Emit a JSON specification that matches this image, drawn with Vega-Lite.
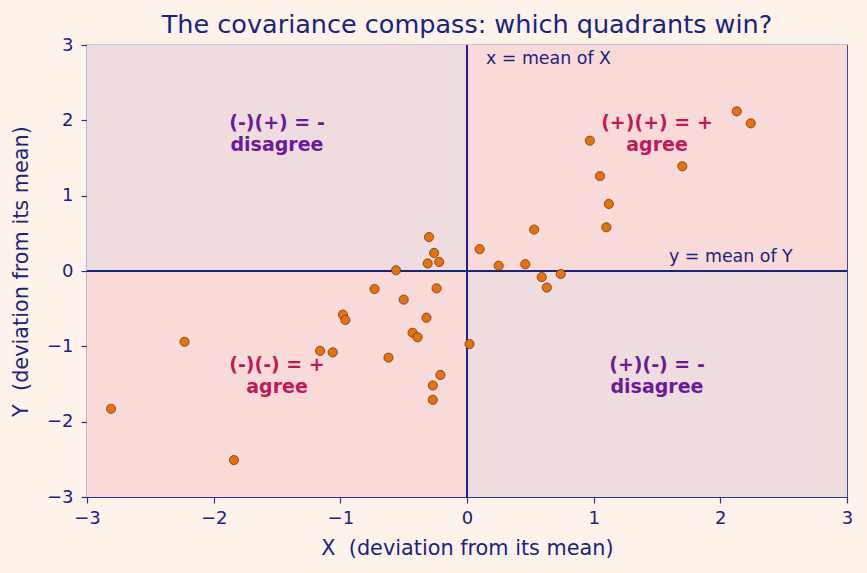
{
  "$schema": "https://vega.github.io/schema/vega-lite/v6.json",
  "autosize": "none",
  "width": 760,
  "height": 452,
  "padding": {"left": 87, "top": 45, "right": 20, "bottom": 76},
  "background": "#fef3ea",
  "config": {
    "font": "DejaVu Sans",
    "view": {"stroke": "#283593", "strokeWidth": 1.2},
    "axis": {
      "labelColor": "#1a237e", "titleColor": "#1a237e", "labelFontSize": 18, "titleFontSize": 20.8,
      "titleFontWeight": "normal", "tickColor": "#283593", "domain": false, "grid": false, "labelFlush": false,
      "tickSize": 6, "tickWidth": 1.2, "labelPadding": 6, "titleFont": "DejaVu Sans", "labelFont": "DejaVu Sans"
    }
  },
  "title": {"text": "The covariance compass: which quadrants win?", "fontSize": 25.5, "fontWeight": "normal", "color": "#1a237e", "font": "DejaVu Sans", "offset": -2},
  "resolve": {"scale": {"color": "independent"}},
  "layer": [
    {
      "data": {"values": [
        {"x1": 0, "x2": 3, "y1": 0, "y2": 3, "kind": "agree"},
        {"x1": -3, "x2": 0, "y1": -3, "y2": 0, "kind": "agree"},
        {"x1": -3, "x2": 0, "y1": 0, "y2": 3, "kind": "disagree"},
        {"x1": 0, "x2": 3, "y1": -3, "y2": 0, "kind": "disagree"}
      ]},
      "mark": {"type": "rect"},
      "encoding": {
        "x": {"field": "x1", "type": "quantitative", "scale": {"domain": [-3, 3], "nice": false}, "axis": {"values": [-3, -2, -1, 0, 1, 2, 3], "format": "d", "title": "X\u00a0\u00a0(deviation from its mean)", "titlePadding": 11, "labelPadding": 6}},
        "x2": {"field": "x2"},
        "y": {"field": "y1", "type": "quantitative", "scale": {"domain": [-3, 3], "nice": false}, "axis": {"values": [-3, -2, -1, 0, 1, 2, 3], "format": "d", "title": "Y\u00a0\u00a0(deviation from its mean)", "titlePadding": 15, "labelPadding": 8}},
        "y2": {"field": "y2"},
        "color": {"field": "kind", "type": "nominal", "scale": {"domain": ["agree", "disagree"], "range": ["#f8dbd8", "#eedcdf"]}, "legend": null}
      }
    },
    {
      "data": {"values": [{"v": 0}]},
      "mark": {"type": "rule", "color": "#1a237e", "strokeWidth": 2},
      "encoding": {"x": {"field": "v", "type": "quantitative"}}
    },
    {
      "data": {"values": [{"v": 0}]},
      "mark": {"type": "rule", "color": "#1a237e", "strokeWidth": 2},
      "encoding": {"y": {"field": "v", "type": "quantitative"}}
    },
    {
      "data": {"values": [
        {"x": -1.5, "y": 1.965, "lines": ["(-)(+) = -", "disagree"], "kind": "disagree"},
        {"x": 1.5, "y": 1.965, "lines": ["(+)(+) = +", "agree"], "kind": "agree"},
        {"x": -1.5, "y": -1.248, "lines": ["(-)(-) = +", "agree"], "kind": "agree"},
        {"x": 1.5, "y": -1.248, "lines": ["(+)(-) = -", "disagree"], "kind": "disagree"}
      ]},
      "mark": {"type": "text", "fontSize": 19, "fontWeight": "bold", "align": "center", "baseline": "middle", "lineHeight": 22},
      "encoding": {
        "x": {"field": "x", "type": "quantitative"},
        "y": {"field": "y", "type": "quantitative"},
        "text": {"field": "lines"},
        "color": {"field": "kind", "type": "nominal", "scale": {"domain": ["agree", "disagree"], "range": ["#c2185b", "#6a1b9a"]}, "legend": null}
      }
    },
    {
      "data": {"values": [
        {"x": 0.15, "y": 2.81, "label": "x = mean of X"},
        {"x": 1.595, "y": 0.186, "label": "y = mean of Y"}
      ]},
      "mark": {"type": "text", "fontSize": 17.4, "align": "left", "baseline": "middle", "color": "#1a237e"},
      "encoding": {
        "x": {"field": "x", "type": "quantitative"},
        "y": {"field": "y", "type": "quantitative"},
        "text": {"field": "label"}
      }
    },
    {
      "data": {"values": [
        {"x": -2.81, "y": -1.83}, {"x": -2.23, "y": -0.94}, {"x": -1.84, "y": -2.51},
        {"x": -1.16, "y": -1.06}, {"x": -1.06, "y": -1.08}, {"x": -0.98, "y": -0.58},
        {"x": -0.96, "y": -0.65}, {"x": -0.73, "y": -0.24}, {"x": -0.62, "y": -1.15},
        {"x": -0.56, "y": 0.01}, {"x": -0.5, "y": -0.38}, {"x": -0.43, "y": -0.82},
        {"x": -0.39, "y": -0.88}, {"x": -0.32, "y": -0.62}, {"x": -0.3, "y": 0.45},
        {"x": -0.26, "y": 0.24}, {"x": -0.31, "y": 0.1}, {"x": -0.22, "y": 0.12},
        {"x": -0.24, "y": -0.23}, {"x": -0.27, "y": -1.52}, {"x": -0.21, "y": -1.38},
        {"x": -0.27, "y": -1.71}, {"x": 0.02, "y": -0.97},
        {"x": 0.1, "y": 0.29}, {"x": 0.25, "y": 0.07}, {"x": 0.46, "y": 0.09},
        {"x": 0.53, "y": 0.55}, {"x": 0.97, "y": 1.73}, {"x": 1.05, "y": 1.26},
        {"x": 1.12, "y": 0.89}, {"x": 1.1, "y": 0.58}, {"x": 1.7, "y": 1.39},
        {"x": 2.13, "y": 2.12}, {"x": 2.24, "y": 1.96},
        {"x": 0.59, "y": -0.08}, {"x": 0.74, "y": -0.04}, {"x": 0.63, "y": -0.22}
      ]},
      "mark": {"type": "point", "filled": true, "fill": "#e8710a", "stroke": "#5d2e12", "strokeWidth": 0.7, "size": 85, "opacity": 1, "fillOpacity": 1},
      "encoding": {
        "x": {"field": "x", "type": "quantitative"},
        "y": {"field": "y", "type": "quantitative"}
      }
    }
  ]
}
